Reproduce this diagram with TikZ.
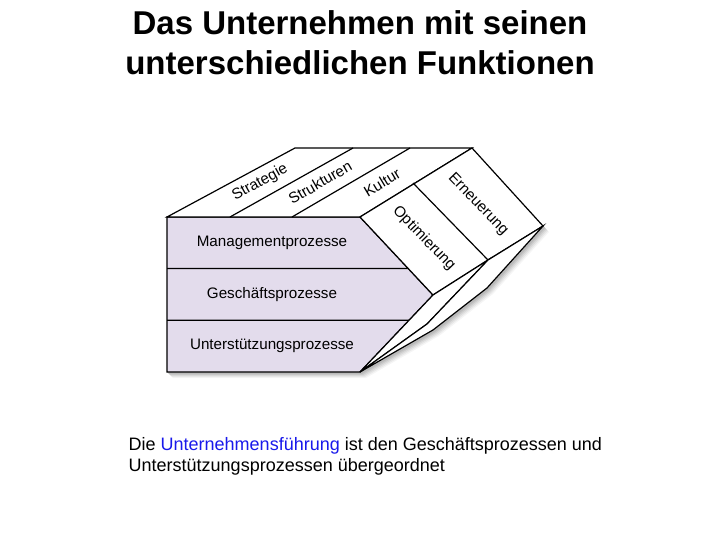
\documentclass[tikz,border=0pt]{standalone}
\usepackage{fontspec}
\setmainfont{Liberation Sans}
\usetikzlibrary{calc}
\definecolor{lav}{RGB}{227,220,236}
\definecolor{linkblue}{RGB}{25,25,235}
\begin{document}
\begin{tikzpicture}[x=1pt,y=-1pt,
  edge/.style={line width=1.2pt, line join=miter},
  lbl/.style={font=\fontsize{15.2}{18}\selectfont, inner sep=0pt},
  notefont/.style={font=\fontsize{18}{21}\selectfont, inner sep=0pt, anchor=base west},
  titlefont/.style={font=\bfseries\fontsize{33}{40}\selectfont, inner sep=0pt, anchor=base},
  shadowfill/.style={fill=black, draw=none}
]
\useasboundingbox[fill=white] (0,0) rectangle (720,540);
% title
\node[titlefont] (title1) at (360,35) {Das Unternehmen mit seinen};
\node[titlefont] (title2) at (360,75) {unterschiedlichen Funktionen};
% key points
\coordinate (FL) at (167,217);
\coordinate (FR) at (360,217);
\coordinate (A)  at (433,295);
\coordinate (B)  at (360,372);
\coordinate (BL) at (167,372);
\coordinate (TL) at (295,148);
\coordinate (TR) at (472,148);
\coordinate (E)  at (543,226);
\coordinate (S1f) at (230,217); \coordinate (S1b) at (353,148);
\coordinate (S2f) at (292,217); \coordinate (S2b) at (410,148);
\coordinate (C1) at (413,183); \coordinate (C) at (488,260);
\coordinate (D) at (427,324);
\coordinate (F) at (487,288);
\coordinate (H) at (433,330);
\coordinate (R1L) at (167,268.5);
\coordinate (R2L) at (167,320.3);
\coordinate (R1R) at ($(FR)!0.66!(A)$);
\coordinate (R2R) at ($(A)!0.329!(B)$);
% soft shadow
\foreach \s/\o in {6/0.04,5/0.05,4/0.06,3/0.07,2/0.08}{
  \fill[shadowfill, opacity=\o]
    ([shift={(\s,\s)}]BL) -- ([shift={(\s,\s)}]B) -- ([shift={(\s,\s)}]H) --
    ([shift={(\s,\s)}]F) -- ([shift={(\s,\s)}]E) --
    ([shift={(\s,\s)}]TR) -- (TR) -- (E) -- (F) -- (H) -- (B) -- (BL) -- cycle;
}
% front face
\draw[edge, fill=lav] (FL) -- (FR) -- (A) -- (B) -- (BL) -- cycle;
\draw[edge] (R1L) -- (R1R);
\draw[edge] (R2L) -- (R2R);
% top face
\draw[edge, fill=white] (FL) -- (TL) -- (TR) -- (FR) -- cycle;
\draw[edge] (S1f) -- (S1b);
\draw[edge] (S2f) -- (S2b);
% right face
\draw[edge, fill=white] (FR) -- (TR) -- (E) -- (C) -- (A) -- cycle;
\draw[edge] (C1) -- (C);
% lower folded slivers
\draw[edge, fill=white] (A) -- (C) -- (D) -- (B) -- cycle;
\draw[edge, fill=white] (C) -- (E) -- (F) -- (H) -- (B) -- (D) -- cycle;
% front labels
\node[lbl] (mgmt) at (272,243) {Managementprozesse};
\node[lbl] (gesch) at (272,295) {Geschäftsprozesse};
\node[lbl] (unter) at (272,346) {Unterstützungsprozesse};
% top labels
\node[lbl, rotate=29] (strat) at ($(FL)!0.5!(S1b)$) {Strategie};
\node[lbl, rotate=30] (strukt) at ($(S1f)!0.5!(S2b)$) {Strukturen};
\node[lbl, rotate=31] (kultur) at ($(S2f)!0.5!(TR)$) {Kultur};
% right labels
\node[lbl, rotate=-46] (optim) at ($(FR)!0.5!(C)$) {Optimierung};
\node[lbl, rotate=-46] (erneu) at ($(C1)!0.5!(E)$) {Erneuerung};
% note
\node[notefont] (note1) at (128.5,450) {Die \textcolor{linkblue}{Unternehmensführung} ist den Geschäftsprozessen und};
\node[notefont] (note2) at (128.5,471) {Unterstützungsprozessen übergeordnet};
\end{tikzpicture}
\end{document}
